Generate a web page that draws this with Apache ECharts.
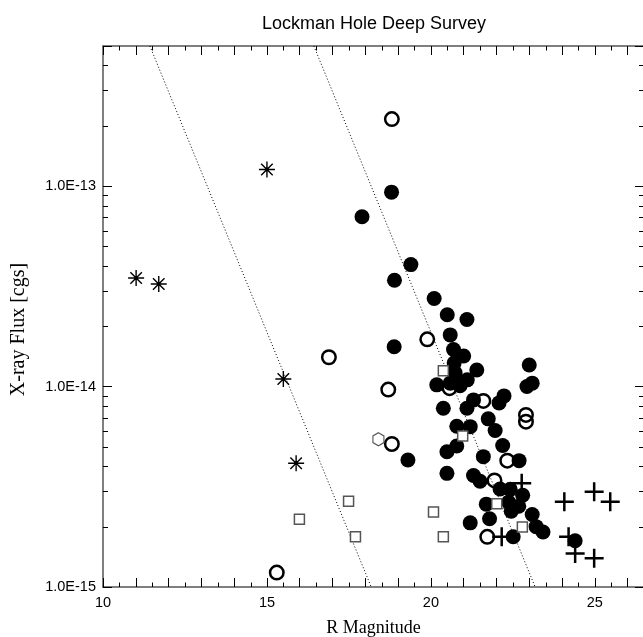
<!DOCTYPE html>
<html><head><meta charset="utf-8">
<script src="https://cdn.jsdelivr.net/npm/echarts@6/dist/echarts.min.js"></script>
<style>html,body{margin:0;padding:0;background:#fff}#c{width:643px;height:637px}</style>
</head><body><div id="c"></div><script>
// ---- data (R magnitude, X-ray flux [cgs]) ----
const filledPts = [
 [18.80,9.33e-14],[17.90,7.03e-14],[19.39,4.06e-14],[18.89,3.39e-14],[20.10,2.75e-14],
 [20.50,2.28e-14],[21.10,2.16e-14],[20.59,1.81e-14],[18.88,1.58e-14],[20.69,1.53e-14],
 [21.00,1.42e-14],[20.71,1.31e-14],[20.74,1.17e-14],[21.40,1.21e-14],[23.00,1.28e-14],
 [20.18,1.02e-14],[20.59,1.04e-14],[20.89,1.01e-14],[21.11,1.08e-14],[22.93,1.00e-14],
 [23.09,1.04e-14],[21.30,8.58e-15],[22.08,8.29e-15],[22.23,8.98e-15],[20.38,7.80e-15],
 [21.10,7.80e-15],[21.75,6.90e-15],[21.96,6.04e-15],[20.79,6.34e-15],[21.20,6.31e-15],
 [22.19,5.08e-15],[19.30,4.30e-15],[20.49,4.73e-15],[20.79,5.05e-15],[21.60,4.47e-15],
 [22.69,4.27e-15],[20.49,3.69e-15],[21.30,3.60e-15],[21.50,3.37e-15],[22.11,3.08e-15],
 [22.42,3.07e-15],[22.80,2.87e-15],[21.69,2.59e-15],[22.37,2.65e-15],[22.68,2.53e-15],
 [22.45,2.39e-15],[23.09,2.30e-15],[21.79,2.19e-15],[21.20,2.09e-15],[23.21,2.00e-15],
 [23.42,1.88e-15],[22.51,1.78e-15],[24.40,1.70e-15]
];
const openPts = [
 [18.81,2.16e-13],[16.89,1.40e-14],[18.70,9.66e-15],[19.89,1.72e-14],[18.81,5.17e-15],
 [15.30,1.18e-15],[20.57,9.82e-15],[21.60,8.48e-15],[22.90,7.22e-15],[22.90,6.68e-15],
 [22.33,4.27e-15],[21.94,3.40e-15],[21.72,1.78e-15]
];
const squarePts = [
 [17.49,2.68e-15],[15.99,2.18e-15],[17.70,1.78e-15],[20.08,2.37e-15],[20.38,1.78e-15],
 [20.97,5.67e-15],[20.38,1.20e-14],[22.01,2.60e-15],[22.79,1.99e-15]
];
const hexPts = [[18.40,5.46e-15]];
const starPts = [[11.01,3.48e-14],[11.70,3.25e-14],[15.00,1.21e-13],[15.50,1.09e-14],[15.89,4.14e-15]];
const plusPts = [
 [22.77,3.29e-15],[22.16,1.78e-15],[24.07,2.66e-15],[24.98,2.99e-15],[25.47,2.66e-15],
 [24.20,1.78e-15],[24.40,1.47e-15],[24.98,1.39e-15]
];
const ratioLineLow = [[11.43,5e-13],[18.18,1e-15]];
const ratioLineHigh = [[16.43,5e-13],[23.18,1e-15]];
// ---- axes / ticks ----
const X_MIN = 10, X_MAX = 26.5, Y_MIN = 1e-15, Y_MAX = 5e-13;
const xTickLabels = [10, 15, 20, 25];
const yTickLabels = [1e-15, 1e-14, 1e-13];
const xMinorTicks = [10.5,11.5,12.5,13.5,14.5,15.5,16.5,17.5,18.5,19.5,20.5,21.5,22.5,23.5,24.5,25.5];
const yMinorTicks = [2e-15,3e-15,4e-15,5e-15,6e-15,7e-15,8e-15,9e-15,
                     2e-14,3e-14,4e-14,5e-14,6e-14,7e-14,8e-14,9e-14,
                     2e-13,3e-13,4e-13];

const chart = echarts.init(document.getElementById('c'), null, {renderer:'canvas'});
const axisLine = {show:true, onZero:false, lineStyle:{color:'#555', width:1.5}};
const tick = {show:true, inside:true, length:9, lineStyle:{color:'#000', width:1}};
const sans = 'Liberation Sans, Arial, sans-serif';
const serif = 'Liberation Serif, Times New Roman, serif';
function xAx(pos, labels){
  return {type:'value', min:X_MIN, max:X_MAX, interval:1, position:pos,
    name: labels ? 'R Magnitude' : '', nameLocation:'middle', nameGap:32,
    nameTextStyle:{fontFamily:serif, fontSize:18, color:'#000'},
    axisLine: axisLine, axisTick: tick, splitLine:{show:false},
    axisLabel:{show:labels, margin:8, fontFamily:sans, fontSize:14.5, color:'#000',
      formatter: v => xTickLabels.indexOf(v) >= 0 ? String(v) : ''}};
}
function yAx(pos, labels){
  return {type:'log', logBase:10, min:Y_MIN, max:Y_MAX, position:pos,
    name: labels ? 'X-ray Flux [cgs]' : '', nameLocation:'middle', nameGap:74,
    nameTextStyle:{fontFamily:serif, fontSize:20, color:'#000', padding:[0,26,0,0]},
    axisLine: axisLine, axisTick: tick, splitLine:{show:false},
    axisLabel:{show:labels, margin:7, fontFamily:sans, fontSize:14.5, color:'#000',
      formatter: v => {
        for (const t of yTickLabels) { if (Math.abs(v - t) / t < 1e-6) return t.toExponential(1).toUpperCase(); }
        return '';
      }}};
}
function sym(path){ return 'path://' + path; }
const starPath = 'M0,-1L0,1M-1,0L1,0M-0.72,-0.72L0.72,0.72M-0.72,0.72L0.72,-0.72M0.16,0A0.16,0.16,0,1,1,-0.16,0A0.16,0.16,0,1,1,0.16,0Z';
const plusPath = 'M-1,0L1,0M0,-1L0,1';
const hexPath = 'M0,-1L0.866,-0.5L0.866,0.5L0,1L-0.866,0.5L-0.866,-0.5Z';
function scat(data, symbol, size, style, z){
  style.opacity = 1;
  return {type:'scatter', data:data, symbol:symbol, symbolSize:size, itemStyle:style,
    silent:true, z:z, emphasis:{disabled:true}};
}
const option = {
  animation:false,
  backgroundColor:'#fff',
  title:{text:'Lockman Hole Deep Survey', left:369, top:10, textAlign:'center',
    textStyle:{fontFamily:sans, fontSize:18, fontWeight:'normal', color:'#000'}},
  grid:{left:103, width:541, top:46, bottom:50, containLabel:false, outerBoundsMode:'none'},
  xAxis:[xAx('bottom', true), xAx('top', false)],
  yAxis:[yAx('left', true), yAx('right', false)],
  series:[
    {type:'line', data:ratioLineLow, showSymbol:false, symbol:'none', silent:true, z:1,
      lineStyle:{color:'#000', width:1, type:[1,2.2]}},
    {type:'line', data:ratioLineHigh, showSymbol:false, symbol:'none', silent:true, z:1,
      lineStyle:{color:'#000', width:1, type:[1,2.2]}},
    scat(openPts, 'circle', 13.5, {color:'rgba(0,0,0,0)', borderColor:'#000', borderWidth:2.5}, 2),
    scat(filledPts, 'circle', 15, {color:'#000'}, 3),
    scat(squarePts, 'rect', 10, {color:'#fff', borderColor:'#555', borderWidth:1.5}, 4),
    scat(hexPts, sym(hexPath), [11,13], {color:'#fff', borderColor:'#555', borderWidth:1.2}, 4),
    scat(starPts, sym(starPath), 16, {color:'#000', borderColor:'#000', borderWidth:1.4}, 5),
    scat(plusPts, sym(plusPath), 19, {color:'#000', borderColor:'#000', borderWidth:2.5}, 5),
    {type:'custom', silent:true, z:6, data: yMinorTicks.map(v => [X_MIN, v]),
      renderItem: function(params, api){
        const v = api.value(1);
        const l = api.coord([X_MIN, v]), r = api.coord([X_MAX, v]);
        const y = Math.round(l[1]) + 0.5;
        return {type:'group', children:[
          {type:'line', shape:{x1:l[0], y1:y, x2:l[0]+5, y2:y}, style:{stroke:'#000', lineWidth:1}},
          {type:'line', shape:{x1:r[0], y1:y, x2:r[0]-5, y2:y}, style:{stroke:'#000', lineWidth:1}}
        ]};
      }},
    {type:'custom', silent:true, z:6, data: xMinorTicks.map(v => [v, Y_MIN]),
      renderItem: function(params, api){
        const v = api.value(0);
        const b = api.coord([v, Y_MIN]), t = api.coord([v, Y_MAX]);
        const x = Math.round(b[0]) + 0.5;
        return {type:'group', children:[
          {type:'line', shape:{x1:x, y1:b[1], x2:x, y2:b[1]-4.5}, style:{stroke:'#000', lineWidth:1}},
          {type:'line', shape:{x1:x, y1:t[1], x2:x, y2:t[1]+4.5}, style:{stroke:'#000', lineWidth:1}}
        ]};
      }}
  ]
};
chart.setOption(option);
</script></body></html>
